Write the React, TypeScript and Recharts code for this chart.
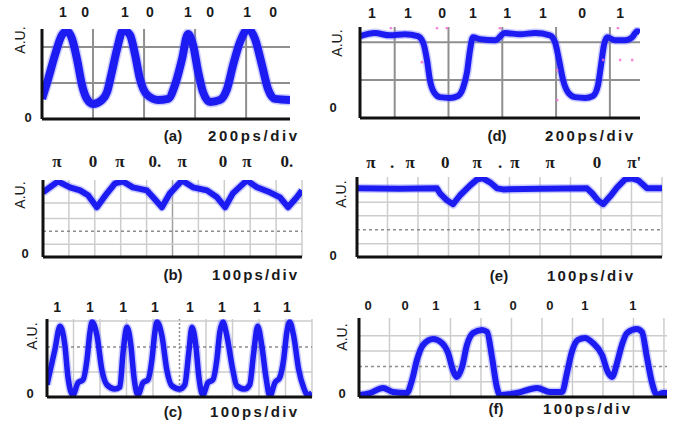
import React from 'react';
import { ComposedChart, Line, Scatter, XAxis, YAxis, ReferenceLine } from 'recharts';

const W = 678;
const H = 424;
const SANS = '"Liberation Sans", Arial, Helvetica, sans-serif';
const SERIF = '"Liberation Serif", "Times New Roman", serif';

// ---------- (a) 1010 pattern, 200 ps/div ----------
const aTime = [0, 24, 51, 78, 98, 118, 137, 157, 176, 200, 235, 255, 274, 294, 318, 345, 365, 384, 412, 455, 494, 521, 549, 572, 592, 612, 631, 659, 698, 725, 749, 776, 808, 835, 862, 886, 913, 972];
const aLevel = [0.56, 1.11, 1.78, 2.33, 2.44, 2.22, 1.67, 0.94, 0.56, 0.42, 0.53, 0.75, 1.31, 1.94, 2.47, 2.33, 1.78, 1.11, 0.67, 0.53, 0.56, 0.94, 1.67, 2.36, 2.06, 1.31, 0.75, 0.47, 0.53, 0.83, 1.5, 2.14, 2.5, 2.22, 1.5, 0.83, 0.56, 0.53];
const aBitPos = [82, 169, 325, 423, 572, 659, 804, 906];
const aBits = ['1', '0', '1', '0', '1', '0', '1', '0'];

// ---------- (d) 11011101 pattern, 200 ps/div ----------
const dTime = [71, 126, 182, 238, 286, 305, 320, 331, 346, 368, 405, 435, 454, 469, 480, 491, 517, 573, 610, 666, 722, 777, 796, 811, 826, 844, 870, 908, 937, 956, 967, 978, 990, 1019, 1056, 1083, 1101, 1112];
const dLevel = [2.16, 2.24, 2.18, 2.21, 2.16, 2.0, 1.53, 1.0, 0.68, 0.55, 0.53, 0.58, 0.79, 1.21, 1.79, 2.13, 2.08, 2.05, 2.24, 2.21, 2.24, 2.18, 2.0, 1.53, 1.0, 0.68, 0.55, 0.53, 0.58, 0.87, 1.39, 1.92, 2.13, 2.05, 2.05, 2.13, 2.29, 2.26];
const dSpeckTime = [186, 301, 357, 394, 591, 804, 804, 975, 1030, 1038, 1083];
const dSpeckLevel = [2.37, 1.47, 2.37, 2.37, 2.37, 1.26, 0.47, 1.53, 2.37, 1.53, 1.53];
const dBitPos = [115, 249, 376, 491, 618, 751, 897, 1038];
const dBits = ['1', '1', '0', '1', '1', '1', '0', '1'];

// ---------- (b) phase pattern, 100 ps/div ----------
const bTime = [0, 58, 104, 143, 174, 208, 247, 278, 309, 347, 401, 425, 459, 490, 537, 579, 633, 672, 703, 733, 787, 826, 876, 915, 946, 980, 1000];
const bLevel = [5.04, 5.89, 5.43, 5.19, 4.81, 3.88, 4.96, 5.74, 5.89, 5.43, 5.19, 4.65, 3.88, 4.96, 5.97, 5.43, 5.19, 4.65, 3.88, 4.96, 5.97, 5.43, 5.04, 4.65, 3.88, 4.65, 5.19];
const bPhasePos = [54, 193, 297, 432, 537, 695, 787, 942];
const bPhase = ['π', '0', 'π', '0.', 'π', '0', 'π', '0.'];

// ---------- (e) phase pattern, 100 ps/div ----------
const eTime = [0, 141, 262, 272, 295, 315, 338, 371, 394, 413, 436, 459, 479, 600, 754, 771, 790, 807, 830, 853, 879, 902, 922, 951, 1000];
const eLevel = [5.15, 5.12, 5.15, 4.78, 4.25, 3.96, 4.63, 5.37, 5.82, 5.9, 5.6, 5.15, 5.07, 5.12, 5.15, 4.78, 4.25, 3.96, 4.55, 5.22, 5.82, 5.9, 5.75, 5.15, 5.15];
const ePhasePos = [46, 115, 174, 289, 394, 469, 518, 633, 787, 909];
const ePhase = ['π', '.', 'π', '0', 'π', '.', 'π', 'π', '0', "π'"];

// ---------- (c) all-ones, 100 ps/div ----------
const cTime = [0, 30, 49, 68, 79, 98, 117, 136, 151, 162, 170, 189, 207, 226, 256, 275, 287, 302, 317, 328, 343, 362, 381, 396, 407, 415, 434, 452, 471, 501, 520, 535, 547, 562, 573, 588, 607, 626, 641, 652, 664, 679, 701, 716, 746, 765, 780, 795, 811, 826, 841, 860, 878, 893, 905, 916, 931, 950, 969, 984, 1000];
const cLevel = [0.49, 1.9, 2.83, 2.02, 0.81, 0.08, 0.57, 0.69, 1.5, 2.59, 3.0, 2.43, 1.09, 0.49, 0.32, 0.4, 1.78, 2.79, 2.02, 0.81, 0.08, 0.57, 0.69, 1.5, 2.59, 3.0, 2.43, 1.09, 0.45, 0.32, 0.49, 1.78, 2.79, 2.02, 0.81, 0.08, 0.57, 0.69, 1.5, 2.59, 3.0, 2.43, 1.09, 0.45, 0.32, 0.49, 1.78, 2.83, 2.02, 0.81, 0.04, 0.57, 0.77, 1.5, 2.59, 3.0, 2.43, 1.09, 0.36, 0.08, 0.16];
const cBitPos = [38, 162, 287, 407, 539, 660, 792, 905];
const cBits = ['1', '1', '1', '1', '1', '1', '1', '1'];

// ---------- (f) 00110011, 100 ps/div ----------
const fTime = [0, 36, 79, 111, 157, 174, 190, 210, 243, 272, 292, 308, 321, 338, 354, 374, 403, 420, 436, 452, 462, 518, 584, 626, 666, 682, 698, 718, 741, 767, 797, 816, 830, 846, 862, 879, 911, 928, 944, 961, 977, 997, 1010];
const fLevel = [0.13, 0.26, 0.59, 0.33, 0.26, 1.11, 2.42, 3.4, 3.79, 3.53, 2.88, 1.76, 1.31, 1.96, 3.4, 4.18, 4.38, 4.25, 2.61, 0.65, 0.13, 0.26, 0.59, 0.33, 0.33, 1.57, 2.94, 3.73, 3.86, 3.53, 2.75, 1.63, 1.31, 2.22, 3.4, 4.18, 4.44, 4.25, 2.61, 0.92, 0.13, 0.26, 0.26];
const fBitPos = [30, 151, 252, 387, 505, 626, 741, 898];
const fBits = ['0', '0', '1', '1', '0', '0', '1', '1'];

const div200a = [200, 400, 600, 800];
const div200d = [200, 400, 600, 800, 1000];
const div100 = [100, 200, 300, 400, 500, 600, 700, 800, 900, 1000];

type GridLine = { v: number; dash?: boolean; dark?: boolean };

type PanelCfg = {
  box: [number, number, number, number];
  xDomain: [number, number];
  yDomain: [number, number];
  xs: number[];
  ys: number[];
  curve: 'monotone' | 'linear';
  lw: number;
  labelPos: number[];
  labels: string[];
  labelGap: number;
  labelSize: number;
  labelFont: string;
  labelWeight: string;
  vGrid: GridLine[];
  hGrid: GridLine[];
  gridColor: string;
  gridWidth: number;
  speckX?: number[];
  speckY?: number[];
};

const AX = 1; // thickness reserved for each axis box

function Panel({ cfg }: { cfg: PanelCfg }) {
  const trace = cfg.xs.map((x, i) => ({ x, y: cfg.ys[i] }));
  const specks = cfg.speckX ? cfg.speckX.map((x, i) => ({ x, y: cfg.speckY![i] })) : null;
  const [l, t, r, b] = cfg.box;
  return (
    <div style={{ position: 'absolute', left: 0, top: 0 }}>
      <ComposedChart
        width={W}
        height={H}
        margin={{ left: l - AX, top: t - AX, right: W - r, bottom: H - b - AX }}
      >
        <XAxis
          xAxisId="b"
          type="number"
          dataKey="x"
          domain={cfg.xDomain}
          allowDataOverflow
          height={AX}
          tick={false}
          tickLine={false}
          axisLine={{ stroke: '#111', strokeWidth: 3 }}
        />
        <XAxis
          xAxisId="t"
          orientation="top"
          type="number"
          dataKey="x"
          domain={cfg.xDomain}
          allowDataOverflow
          height={AX}
          ticks={cfg.labelPos}
          interval={0}
          tickFormatter={(v: number) => cfg.labels[cfg.labelPos.indexOf(v)] ?? ''}
          tickLine={false}
          tickSize={0}
          tickMargin={cfg.labelGap}
          axisLine={false}
          tick={{ fill: '#1a1a1a', fontSize: cfg.labelSize, fontWeight: cfg.labelWeight, fontFamily: cfg.labelFont }}
        />
        <YAxis
          type="number"
          dataKey="y"
          domain={cfg.yDomain}
          allowDataOverflow
          width={AX}
          tick={false}
          tickLine={false}
          axisLine={{ stroke: '#111', strokeWidth: 3 }}
        />
        {cfg.vGrid.map((g) => (
          <ReferenceLine
            key={'v' + g.v}
            xAxisId="b"
            x={g.v}
            stroke={g.dash ? '#8c8c8c' : g.dark ? '#a0a0a0' : cfg.gridColor}
            strokeWidth={cfg.gridWidth}
            strokeDasharray={g.dash ? '2 2' : undefined}
          />
        ))}
        {cfg.hGrid.map((g) => (
          <ReferenceLine
            key={'h' + g.v}
            xAxisId="b"
            y={g.v}
            stroke={g.dash ? '#8c8c8c' : cfg.gridColor}
            strokeWidth={cfg.gridWidth}
            strokeDasharray={g.dash ? '3 3' : undefined}
          />
        ))}
        <Line
          xAxisId="t"
          data={trace}
          dataKey="y"
          type="linear"
          stroke="none"
          strokeWidth={0}
          dot={false}
          legendType="none"
          isAnimationActive={false}
        />
        <Line
          xAxisId="b"
          data={trace}
          dataKey="y"
          type={cfg.curve}
          stroke="#6a6aff"
          strokeOpacity={0.35}
          strokeWidth={cfg.lw + 3}
          strokeLinejoin="round"
          dot={false}
          isAnimationActive={false}
        />
        <Line
          xAxisId="b"
          data={trace}
          dataKey="y"
          type={cfg.curve}
          stroke="#1c1cf2"
          strokeWidth={cfg.lw}
          strokeLinejoin="round"
          dot={false}
          isAnimationActive={false}
        />
        {specks && (
          <Scatter
            xAxisId="b"
            data={specks}
            dataKey="y"
            isAnimationActive={false}
            shape={(p: any) => <circle cx={p.cx} cy={p.cy} r={1.4} fill="#f070d0" fillOpacity={0.8} />}
          />
        )}
      </ComposedChart>
    </div>
  );
}

const g = (vals: number[], dashed: number[] = [], dark: number[] = []): GridLine[] =>
  vals.map((v) => ({ v, dash: dashed.includes(v), dark: dark.includes(v) }));

const panels: PanelCfg[] = [
  {
    box: [42, 29, 290, 119], xDomain: [0, 972], yDomain: [0, 2.5], xs: aTime, ys: aLevel, curve: 'monotone', lw: 8,
    labelPos: aBitPos, labels: aBits, labelGap: 12, labelSize: 14, labelFont: SANS, labelWeight: 'bold',
    vGrid: g(div200a), hGrid: g([1, 2]), gridColor: '#8f8f8f', gridWidth: 2,
  },
  {
    box: [360, 27, 640, 118], xDomain: [71, 1112], yDomain: [0, 2.4], xs: dTime, ys: dLevel, curve: 'monotone', lw: 6,
    labelPos: dBitPos, labels: dBits, labelGap: 9, labelSize: 14, labelFont: SANS, labelWeight: 'bold',
    vGrid: g(div200d), hGrid: g([1, 2]), gridColor: '#8f8f8f', gridWidth: 2, speckX: dSpeckTime, speckY: dSpeckLevel,
  },
  {
    box: [43, 180, 302, 257], xDomain: [0, 1000], yDomain: [0, 6], xs: bTime, ys: bLevel, curve: 'linear', lw: 6,
    labelPos: bPhasePos, labels: bPhase, labelGap: 13, labelSize: 17, labelFont: SERIF, labelWeight: 'bold',
    vGrid: g(div100, [], [500]), hGrid: g([1, 2, 3, 4.2], [2]), gridColor: '#cdcdcd', gridWidth: 1.5,
  },
  {
    box: [357, 177, 662, 257], xDomain: [0, 1000], yDomain: [0, 6], xs: eTime, ys: eLevel, curve: 'linear', lw: 6,
    labelPos: ePhasePos, labels: ePhase, labelGap: 9, labelSize: 17, labelFont: SERIF, labelWeight: 'bold',
    vGrid: g(div100), hGrid: g([1, 2.05, 3.1, 4.1], [2.05]), gridColor: '#cdcdcd', gridWidth: 1.5,
  },
  {
    box: [47, 319, 312, 397], xDomain: [0, 1000], yDomain: [0, 3.12], xs: cTime, ys: cLevel, curve: 'monotone', lw: 5.5,
    labelPos: cBitPos, labels: cBits, labelGap: 7, labelSize: 14, labelFont: SANS, labelWeight: 'bold',
    vGrid: g(div100, [500]), hGrid: g([1, 2, 3.04], [2]), gridColor: '#cdcdcd', gridWidth: 1.5,
  },
  {
    box: [359, 318, 667, 397], xDomain: [0, 1010], yDomain: [0, 5.16], xs: fTime, ys: fLevel, curve: 'monotone', lw: 6,
    labelPos: fBitPos, labels: fBits, labelGap: 8, labelSize: 13, labelFont: SANS, labelWeight: '600',
    vGrid: g(div100), hGrid: g([1, 2, 3, 4], [2]), gridColor: '#cdcdcd', gridWidth: 1.5,
  },
];

const auMarks = [
  { x: 20, y: 40 },
  { x: 337, y: 43 },
  { x: 20, y: 195 },
  { x: 341, y: 194 },
  { x: 32, y: 336 },
  { x: 342, y: 337 },
];
const zeroMarks = [
  { x: 28, y: 117 },
  { x: 333, y: 107 },
  { x: 25, y: 253 },
  { x: 333, y: 255 },
  { x: 30, y: 393 },
  { x: 342, y: 393 },
];
const captions = [
  { tag: '(a)', tx: 173, unit: '200ps/div', ux: 208, uw: 89, y: 141 },
  { tag: '(d)', tx: 497, unit: '200ps/div', ux: 545, uw: 88, y: 141 },
  { tag: '(b)', tx: 173, unit: '100ps/div', ux: 212, uw: 85, y: 280 },
  { tag: '(e)', tx: 499, unit: '100ps/div', ux: 547, uw: 86, y: 281 },
  { tag: '(c)', tx: 173, unit: '100ps/div', ux: 210, uw: 87, y: 417 },
  { tag: '(f)', tx: 496, unit: '100ps/div', ux: 543, uw: 87, y: 414 },
];

export default function App() {
  return (
    <div style={{ position: 'absolute', left: 0, top: 0, width: W, height: H, background: '#fff', overflow: 'hidden' }}>
      {panels.map((p, i) => (
        <Panel key={i} cfg={p} />
      ))}
      <svg width={W} height={H} style={{ position: 'absolute', left: 0, top: 0 }}>
        {auMarks.map((m, i) => (
          <text
            key={'au' + i}
            x={m.x}
            y={m.y}
            transform={`rotate(-90 ${m.x} ${m.y})`}
            textAnchor="middle"
            dominantBaseline="central"
            fontFamily={SANS}
            fontSize={14}
            fill="#1a1a1a"
          >
            A.U.
          </text>
        ))}
        {zeroMarks.map((m, i) => (
          <text
            key={'z' + i}
            x={m.x}
            y={m.y}
            textAnchor="middle"
            dominantBaseline="central"
            fontFamily={SANS}
            fontSize={13}
            fontWeight="bold"
            fill="#1a1a1a"
          >
            0
          </text>
        ))}
        {captions.map((c, i) => (
          <g key={'c' + i}>
            <text x={c.tx} y={c.y} textAnchor="middle" fontFamily={SANS} fontSize={15} fontWeight="bold" fill="#1a1a1a">
              {c.tag}
            </text>
            <text
              x={c.ux}
              y={c.y}
              fontFamily={SANS}
              fontSize={15}
              fontWeight="bold"
              fill="#1a1a1a"
              textLength={c.uw}
              lengthAdjust="spacing"
            >
              {c.unit}
            </text>
          </g>
        ))}
      </svg>
    </div>
  );
}
